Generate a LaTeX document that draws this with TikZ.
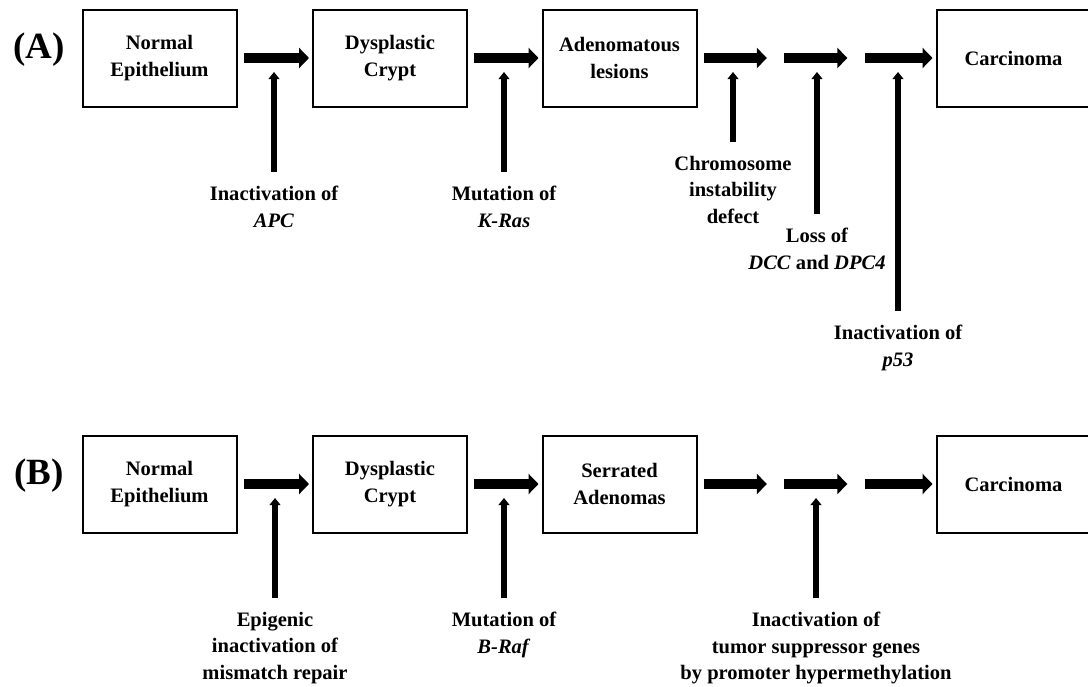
\documentclass[tikz,border=0pt]{standalone}
\usepackage{fontspec}
\setmainfont{Liberation Serif}
\usetikzlibrary{arrows.meta}

\begin{document}
\begin{tikzpicture}[x=0.75pt, y=-0.75pt,
    every node/.style={font=\fontsize{15.4}{19.8}\selectfont\bfseries},
    stage/.style={draw, line width=1.5pt, minimum width=115.5pt, minimum height=72.75pt, inner sep=0pt, outer sep=0pt, align=center},
    gap/.style={minimum width=4.75pt, minimum height=1pt, inner sep=0pt, outer sep=0pt},
    note/.style={anchor=north, inner sep=0pt, align=center},
    tag/.style={font=\fontsize{27.75}{30}\selectfont\bfseries},
    flow/.style={line width=7.5pt, -{Triangle[length=7.5pt, width=15pt]}, shorten <=5.25pt, shorten >=3pt},
    push/.style={line width=4.25pt, -{Triangle[length=5.25pt, width=8pt]}, shorten <=10.5pt, shorten >=10.5pt}]

    \clip (0,0) rectangle (1088,686);

    % (A)
    \node [tag] (tagA) at (39,50) {(A)};
    \node [stage] (boxA1) at (159.5,58) {Normal\\Epithelium};
    \node [stage] (boxA2) at (390,58) {Dysplastic\\Crypt};
    \node [stage] (boxA3) at (619.5,58) {Adenomatous\\lesions};
    \node [gap] (stepA1) at (774,58) {};
    \node [gap] (stepA2) at (854.5,58) {};
    \node [stage] (boxA4) at (1013.5,58) {Carcinoma};

    \draw[flow] (boxA1) -- coordinate (midA1) (boxA2);
    \draw[flow] (boxA2) -- coordinate (midA2) (boxA3);
    \draw[flow] (boxA3) -- coordinate (midA3) (stepA1);
    \draw[flow] (stepA1) -- coordinate (midA4) (stepA2);
    \draw[flow] (stepA2) -- coordinate (midA5) (boxA4);

    \node [note] (labA1) at (274,186) {Inactivation of\\\textit{APC}};
    \node [note] (labA2) at (504,186) {Mutation of\\\textit{K-Ras}};
    \node [note] (labA3) at (733,156) {Chromosome\\instability\\defect};
    \node [note] (labA4) at (817,228) {Loss of\\\textit{DCC} and \textit{DPC4}};
    \node [note] (labA5) at (898,325) {Inactivation of\\\textit{p53}};

    \draw[push] (labA1) -- (labA1 |- midA1);
    \draw[push] (labA2) -- (labA2 |- midA2);
    \draw[push] (labA3) -- (labA3 |- midA3);
    \draw[push] (labA4) -- (labA4 |- midA4);
    \draw[push] (labA5) -- (labA5 |- midA5);

    % (B)
    \node [tag] (tagB) at (39,476) {(B)};
    \node [stage] (boxB1) at (159.5,484) {Normal\\Epithelium};
    \node [stage] (boxB2) at (390,484) {Dysplastic\\Crypt};
    \node [stage] (boxB3) at (619.5,484) {Serrated\\Adenomas};
    \node [gap] (stepB1) at (774,484) {};
    \node [gap] (stepB2) at (854.5,484) {};
    \node [stage] (boxB4) at (1013.5,484) {Carcinoma};

    \draw[flow] (boxB1) -- coordinate (midB1) (boxB2);
    \draw[flow] (boxB2) -- coordinate (midB2) (boxB3);
    \draw[flow] (boxB3) -- (stepB1);
    \draw[flow] (stepB1) -- coordinate (midB4) (stepB2);
    \draw[flow] (stepB2) -- (boxB4);

    \node [note] (labB1) at (275,612) {Epigenic\\inactivation of\\mismatch repair};
    \node [note] (labB2) at (504,612) {Mutation of\\\textit{B-Raf}};
    \node [note] (labB4) at (816,612) {Inactivation of\\tumor suppressor genes\\by promoter hypermethylation};

    \draw[push] (labB1) -- (labB1 |- midB1);
    \draw[push] (labB2) -- (labB2 |- midB2);
    \draw[push] (labB4) -- (labB4 |- midB4);
\end{tikzpicture}
\end{document}
